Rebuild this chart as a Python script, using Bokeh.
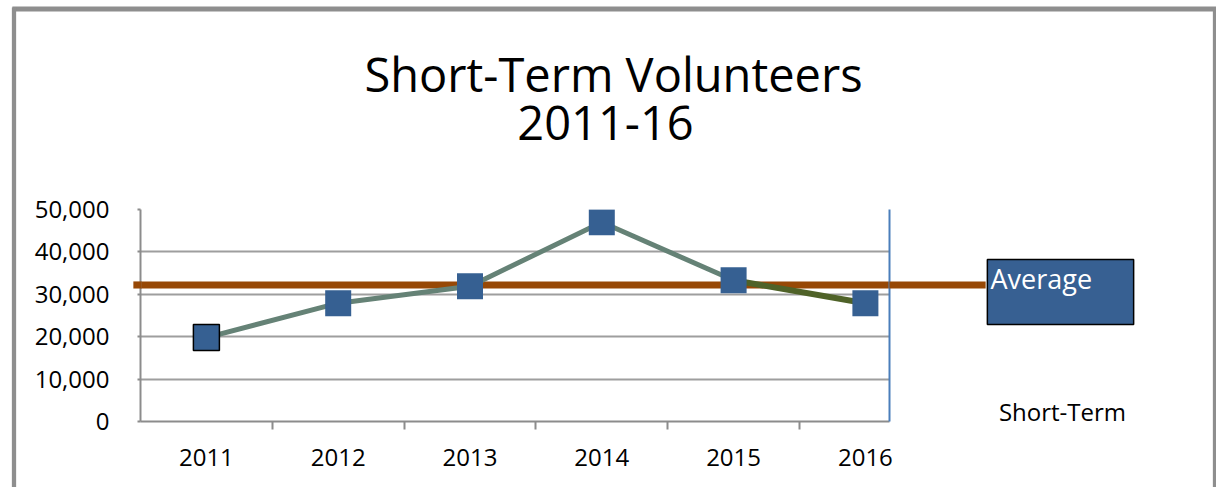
from bokeh.plotting import figure
from bokeh.models import (Range1d, FixedTicker, LinearAxis, Label, Span,
                          NumeralTickFormatter)
from bokeh.embed import file_html
from bokeh.resources import INLINE

# ---------------- data ----------------
years = ["2011", "2012", "2013", "2014", "2015", "2016"]
volunteers = [19800, 27900, 31900, 47000, 33300, 27900]
average_value = 32200
y_ticks = [0, 10000, 20000, 30000, 40000, 50000]
title_lines = ["Short-Term Volunteers", "2011-16"]
legend_labels = ["Average", "Short-Term"]

# ---------------- layout ----------------
FONT = "Open Sans"
W, H = 1216, 487
FL, FR, FT, FB = 140, 889, 209, 421   # plot frame in px
CAT_W = 131.8                         # px per category
XMAX = (FR - FL) / CAT_W
YMAX = 50000


def fx(px):
    return (px - FL) / CAT_W


def fy(py):
    return (FB - py) / (FB - FT) * YMAX


p = figure(width=W, height=H, x_range=Range1d(0, XMAX), y_range=Range1d(0, YMAX),
           output_backend="svg", toolbar_location=None,
           min_border_left=FL, min_border_right=W - FR,
           min_border_top=FT, min_border_bottom=H - FB)
p.outline_line_color = None
p.background_fill_color = "white"
p.border_fill_color = "white"

xs = [i + 0.5 for i in range(len(years))]

# x axis: labels centred on categories, tick marks on the boundaries
xa = p.xaxis[0]
xa.ticker = FixedTicker(ticks=xs, minor_ticks=[i for i in range(1, len(years))])
xa.major_label_overrides = {x: y for x, y in zip(xs, years)}
xa.major_tick_line_color = None
xa.major_tick_out = 8
xa.major_tick_in = 0
xa.minor_tick_line_color = "#8c8c8c"
xa.minor_tick_line_width = 2
xa.minor_tick_out = 8
xa.minor_tick_in = 0
xa.axis_line_color = "#8c8c8c"
xa.axis_line_width = 2
xa.major_label_text_font = FONT
xa.major_label_text_font_size = "24px"
xa.major_label_text_color = "black"
xa.major_label_standoff = 19

ya = p.yaxis[0]
ya.ticker = FixedTicker(ticks=y_ticks)
ya.formatter = NumeralTickFormatter(format="0,0")
ya.axis_line_color = "#8c8c8c"
ya.axis_line_width = 2
ya.major_tick_line_color = "#8c8c8c"
ya.major_tick_line_width = 2
ya.major_tick_out = 3
ya.major_tick_in = 0
ya.minor_tick_line_color = None
ya.major_label_text_font = FONT
ya.major_label_text_font_size = "24px"
ya.major_label_text_color = "black"
ya.major_label_standoff = 28

# right frame edge in blue
ra = LinearAxis(ticker=FixedTicker(ticks=[]), axis_line_color="#4a7ebb", axis_line_width=2,
                major_tick_line_color=None, minor_tick_line_color=None,
                major_label_text_font_size="0px")
p.add_layout(ra, "right")

p.xgrid.visible = False
p.ygrid.ticker = FixedTicker(ticks=y_ticks)
p.ygrid.grid_line_color = "#9e9e9e"
p.ygrid.grid_line_width = 2

ORANGE = "#974806"
# average line inside the plot area
p.add_layout(Span(location=average_value, dimension="width", line_color=ORANGE,
                  line_width=7, level="underlay"))


def box(cx, cy, w, h, color, panel, line_color=None, line_width=1):
    """Solid rectangle drawn as an empty label with a background (not clipped)."""
    hw, hh = int(round(w / 2)), int(round(h / 2))
    lab = Label(x=fx(cx), y=fy(cy), text=" ", text_font_size="1px",
                text_align="center", text_baseline="middle",
                background_fill_color=color, background_fill_alpha=1.0,
                border_line_color=line_color, border_line_width=line_width,
                padding=dict(left=hw, right=hw, top=hh, bottom=hh))
    p.add_layout(lab, panel)


# average line continues past the plot area to the legend box
avg_py = FB - average_value / YMAX * (FB - FT)
box((889 + 985) / 2, avg_py, 985 - 889, 6, ORANGE, "above")
box((133 + 141) / 2, avg_py, 141 - 133, 6, ORANGE, "above")

# series line
p.line(xs[:-1], volunteers[:-1], line_color="#658276", line_width=5)
p.line(xs[-2:], volunteers[-2:], line_color="#4f6228", line_width=6)

# markers
p.scatter(xs[1:], volunteers[1:], marker="square", size=26,
          fill_color="#366092", line_color=None)
p.scatter(xs[:1], volunteers[:1], marker="square", size=26,
          fill_color="#366092", line_color="black", line_width=1.5)

# title
p.add_layout(Label(x=fx(613), y=fy(73), text=title_lines[0], text_align="center",
                   text_baseline="alphabetic", text_font=FONT, text_font_size="47px",
                   text_color="black"), "above")
p.add_layout(Label(x=fx(605), y=fy(122), text=title_lines[1], text_align="center",
                   text_baseline="alphabetic", text_font=FONT, text_font_size="47px",
                   text_color="black"), "above")

# legend: "Average" box and "Short-Term"
box((987 + 1133) / 2, (260 + 323) / 2, 1133 - 987, 323 - 260, "#376092", "right",
    line_color="black", line_width=1.5)
p.add_layout(Label(x=fx(990), y=fy(278), text=legend_labels[0], text_align="left",
                   text_baseline="alphabetic", text_font=FONT, text_font_size="27px",
                   text_color="white"), "right")
p.add_layout(Label(x=fx(1062), y=fy(411), text=legend_labels[1], text_align="center",
                   text_baseline="alphabetic", text_font=FONT, text_font_size="24px",
                   text_color="black"), "above")

# outer chart border (gray)
BORDER = "#8e8e8e"
box((12 + 1216) / 2, 8.5, 1216 - 12, 3, BORDER, "above")
box(13.5, (8 + 487) / 2 + 4, 3, 487 - 8 + 8, BORDER, "right")
box(1214.5, (8 + 487) / 2 + 4, 3, 487 - 8 + 8, BORDER, "right")

open("out.html", "w").write(file_html(p, INLINE))
